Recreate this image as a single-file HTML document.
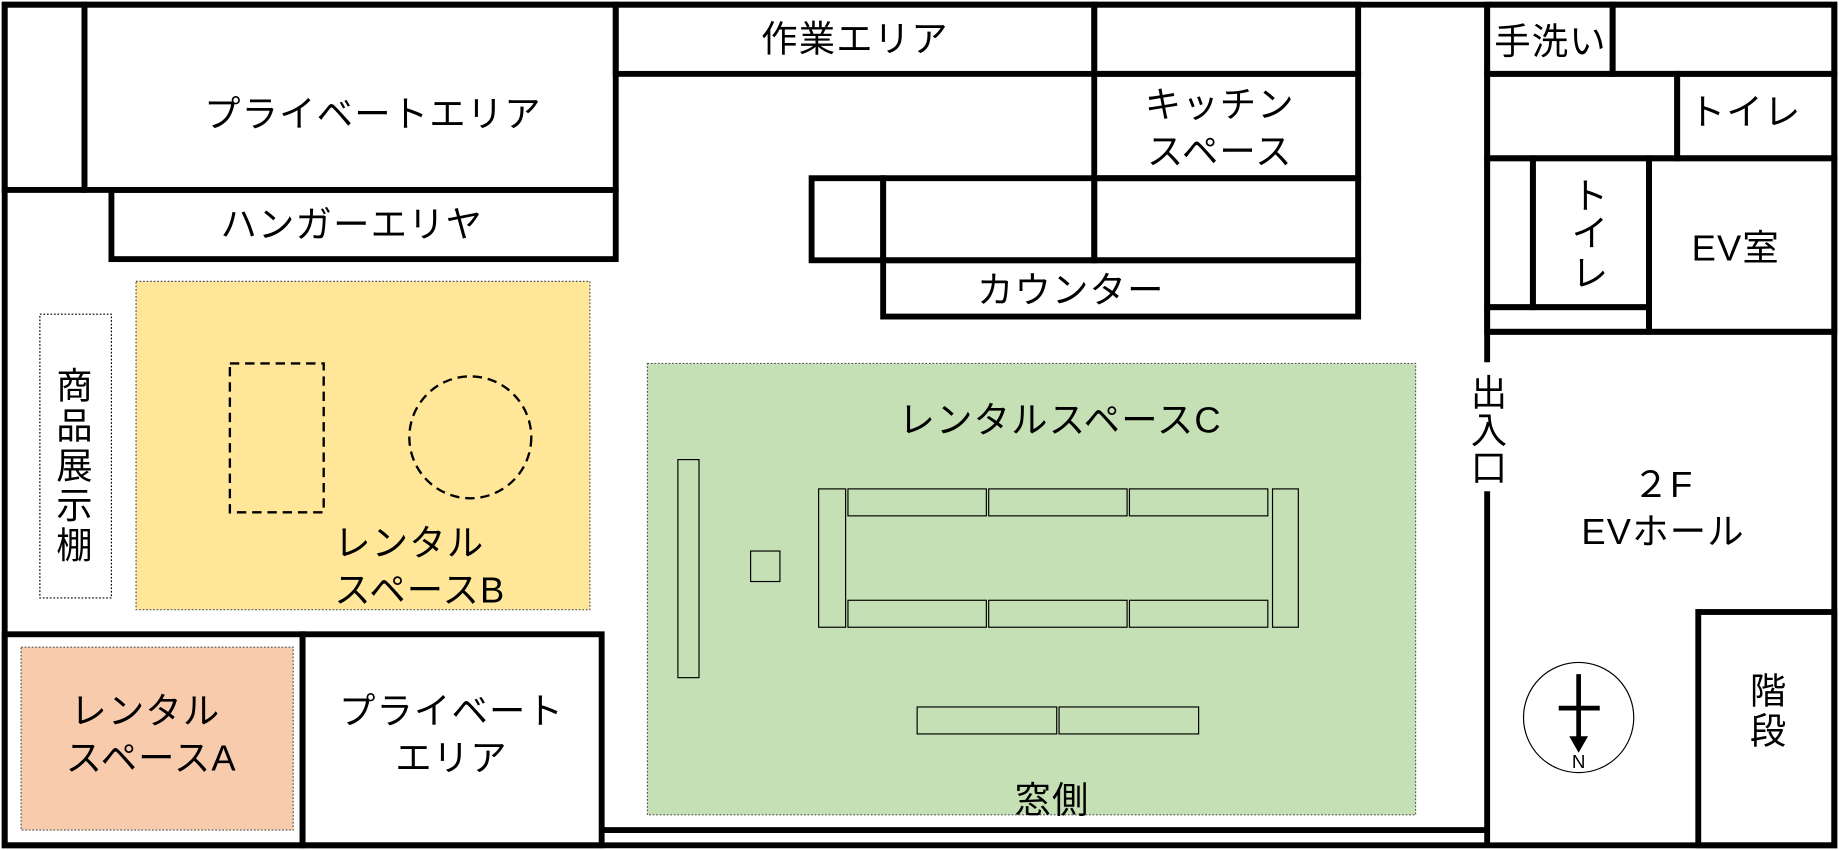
<!DOCTYPE html>
<html><head><meta charset="utf-8"><style>
html,body{margin:0;padding:0;background:#fff;}
svg{display:block}
text{font-family:"Liberation Sans","Noto Sans CJK JP",sans-serif;font-size:31px;letter-spacing:1px;fill:#000;}
</style></head><body>
<svg width="1839" height="850" viewBox="0 0 1568 725" preserveAspectRatio="none" xmlns="http://www.w3.org/2000/svg">
<rect width="1568" height="725" fill="#fff"/>
<rect x="116" y="240" width="387" height="280" fill="#ffe699" stroke="#555" stroke-width="1" stroke-dasharray="1.5,1.5"/>
<rect x="18" y="552" width="232" height="156" fill="#f8cbad" stroke="#555" stroke-width="1" stroke-dasharray="1.5,1.5"/>
<rect x="552" y="310" width="655" height="385" fill="#c5e0b4" stroke="#555" stroke-width="1" stroke-dasharray="1.5,1.5"/>
<rect x="34" y="268" width="61" height="242" fill="#fff" stroke="#000" stroke-width="1" stroke-dasharray="1.5,1.5"/>
<g fill="none" stroke="#000" stroke-width="2" stroke-dasharray="8,5">
<rect x="196" y="310" width="80" height="127"/>
<circle cx="401" cy="373" r="52"/>
</g>
<g fill="none" stroke="#000" stroke-width="1">
<rect x="578" y="392" width="18" height="186"/>
<rect x="640" y="470" width="25" height="26"/>
<rect x="698" y="417" width="23" height="118"/>
<rect x="1085" y="417" width="22" height="118"/>
<rect x="723" y="417" width="118" height="23"/><rect x="843" y="417" width="118" height="23"/><rect x="963" y="417" width="118" height="23"/>
<rect x="723" y="512" width="118" height="23"/><rect x="843" y="512" width="118" height="23"/><rect x="963" y="512" width="118" height="23"/>
<rect x="782" y="603" width="119" height="23"/><rect x="903" y="603" width="119" height="23"/>
<circle cx="1346" cy="612" r="47"/>
</g>
<g fill="none" stroke="#000" stroke-width="5">
<rect x="4" y="4" width="1560" height="717"/>
<rect x="4" y="4" width="68" height="158"/>
<rect x="72" y="4" width="453" height="158"/>
<rect x="95" y="162" width="430" height="59"/>
<rect x="525" y="4" width="408" height="59"/>
<rect x="933" y="4" width="225" height="59"/>
<rect x="933" y="63" width="225" height="89"/>
<rect x="692" y="152" width="61" height="70"/>
<rect x="753" y="152" width="180" height="70"/>
<rect x="933" y="152" width="225" height="70"/>
<rect x="753" y="222" width="405" height="48"/>
<line x1="1268" y1="4" x2="1268" y2="309"/>
<line x1="1268" y1="419" x2="1268" y2="721"/>
<rect x="1268" y="4" width="107" height="59"/>
<rect x="1375" y="4" width="189" height="59"/>
<rect x="1268" y="63" width="162" height="72"/>
<rect x="1430" y="63" width="134" height="72"/>
<rect x="1268" y="135" width="39" height="127"/>
<rect x="1307" y="135" width="99" height="127"/>
<rect x="1406" y="135" width="158" height="148"/>
<rect x="1268" y="262" width="138" height="21"/>
<line x1="1268" y1="283" x2="1564" y2="283"/>
<rect x="1448" y="522" width="116" height="199"/>
<rect x="4" y="541" width="254" height="180"/>
<rect x="258" y="541" width="255" height="180"/>
<line x1="513" y1="708" x2="1268" y2="708"/>
</g>
<line x1="1346" y1="575" x2="1346" y2="630" stroke="#000" stroke-width="4"/>
<line x1="1329" y1="604" x2="1364" y2="604" stroke="#000" stroke-width="4"/>
<polygon points="1338,628 1354,628 1346,642" fill="#000"/>
<text x="1346" y="655" text-anchor="middle" style="font-size:16px;letter-spacing:0">N</text>
<text x="318" y="108" text-anchor="middle">プライベートエリア</text>
<text x="300" y="202" text-anchor="middle">ハンガーエリヤ</text>
<text x="729" y="44" text-anchor="middle">作業エリア</text>
<text x="1040" y="100" text-anchor="middle">キッチン</text>
<text x="1040" y="140" text-anchor="middle">スペース</text>
<text x="913" y="258" text-anchor="middle">カウンター</text>
<text x="1322" y="46" text-anchor="middle">手洗い</text>
<text x="1488" y="106" text-anchor="middle">トイレ</text>
<text x="1356" y="178" text-anchor="middle">ト</text>
<text x="1356" y="210" text-anchor="middle">イ</text>
<text x="1356" y="244" text-anchor="middle">レ</text>
<text x="1480" y="222" text-anchor="middle">EV室</text>
<text x="1270" y="346" text-anchor="middle">出</text>
<text x="1270" y="378" text-anchor="middle">入</text>
<text x="1270" y="410" text-anchor="middle">口</text>
<text x="1418" y="424" text-anchor="middle">２F</text>
<text x="1418" y="464" text-anchor="middle">EVホール</text>
<text x="1508" y="600" text-anchor="middle">階</text>
<text x="1508" y="634" text-anchor="middle">段</text>
<text x="64" y="340" text-anchor="middle">商</text>
<text x="64" y="374" text-anchor="middle">品</text>
<text x="64" y="408" text-anchor="middle">展</text>
<text x="64" y="442" text-anchor="middle">示</text>
<text x="64" y="476" text-anchor="middle">棚</text>
<text x="285" y="474">レンタル</text>
<text x="285" y="514">スペースB</text>
<text x="60" y="617">レンタル</text>
<text x="56" y="657">スペースA</text>
<text x="385" y="617" text-anchor="middle">プライベート</text>
<text x="385" y="657" text-anchor="middle">エリア</text>
<text x="904" y="369" text-anchor="middle">レンタルスペースC</text>
<text x="897" y="693" text-anchor="middle">窓側</text>
</svg>
</body></html>
